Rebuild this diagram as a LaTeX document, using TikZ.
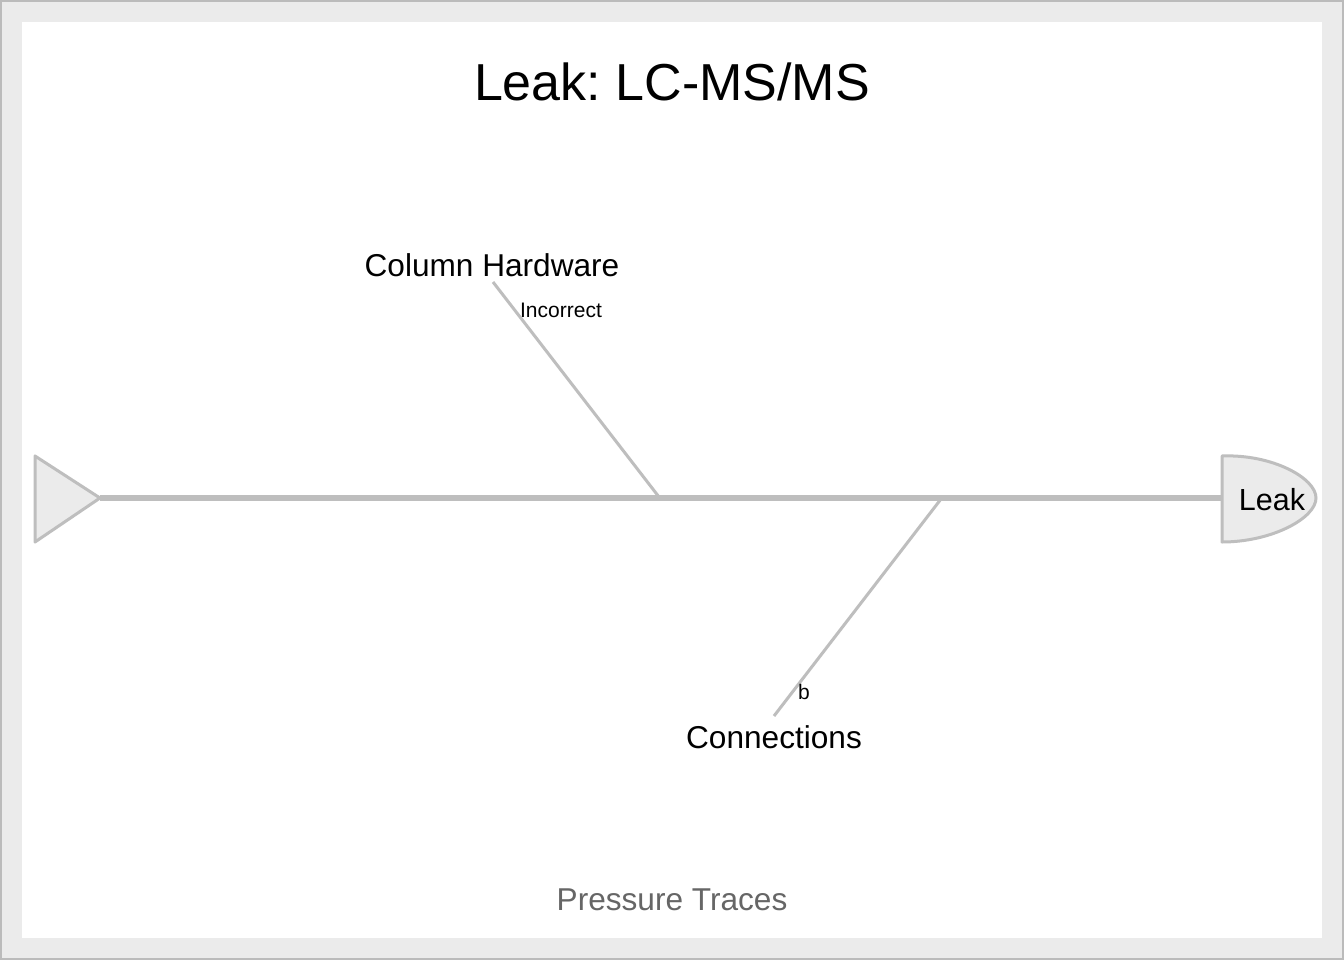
\documentclass[tikz,border=0pt]{standalone}
\usepackage{fontspec}
\setmainfont{Liberation Sans}
\usepackage{xcolor}
\definecolor{bonegray}{HTML}{BEBEBE}
\definecolor{panelgray}{HTML}{EBEBEB}
\definecolor{framegray}{HTML}{BBBBBB}
\definecolor{notegray}{HTML}{666666}
\frenchspacing
\begin{document}
\begin{tikzpicture}[x=1pt, y=-1pt,
  bone/.style={draw=bonegray, line width=3pt},
  spine/.style={draw=bonegray, line width=6pt},
  part/.style={draw=bonegray, fill=panelgray, line width=3pt, line join=round},
  cause/.style={inner sep=0pt, font=\fontsize{31.6}{36}\selectfont},
  sub/.style={inner sep=0pt, font=\fontsize{21}{24}\selectfont}]
  \useasboundingbox (0,0) rectangle (1344,960);
  \fill[framegray] (0,0) rectangle (1344,960);
  \fill[panelgray] (2,2) rectangle (1342,958);
  \fill[white] (22,22) rectangle (1322,938);

  \node[inner sep=0pt, font=\fontsize{52}{60}\selectfont] (title) at (672,82) {Leak: LC-MS/MS};

  % tail and head
  \draw[part] (35,456) -- (100,498) coordinate (tail) -- (35,542) -- cycle;
  \draw[part] (1222,456) .. controls (1272,454) and (1316,478) .. (1316,498)
    .. controls (1316,518) and (1272,542) .. (1222,542) -- cycle;
  \coordinate (head) at (1222,498);
  \node[inner sep=0pt, font=\fontsize{30.5}{36}\selectfont] (effect) at (1272,500) {Leak};
  \draw[spine] (tail) -- (head);

  % causes
  \node[cause] (hardware) at (492,265) {Column Hardware};
  \node[cause] (connections) at (774,737) {Connections};
  \coordinate (hwtop) at (493,282);
  \coordinate (hwspine) at (659,497);
  \coordinate (cnbot) at (774,716);
  \coordinate (cnspine) at (941,499);
  \draw[bone] (hwtop) -- (hwspine);
  \draw[bone] (cnspine) -- (cnbot);
  \node[sub] (incorrect) at (561,310) {Incorrect};
  \node[sub] (b) at (804,692) {b};

  \node[inner sep=0pt, text=notegray, font=\fontsize{31.6}{36}\selectfont] (traces) at (672,900) {Pressure Traces};
\end{tikzpicture}
\end{document}
